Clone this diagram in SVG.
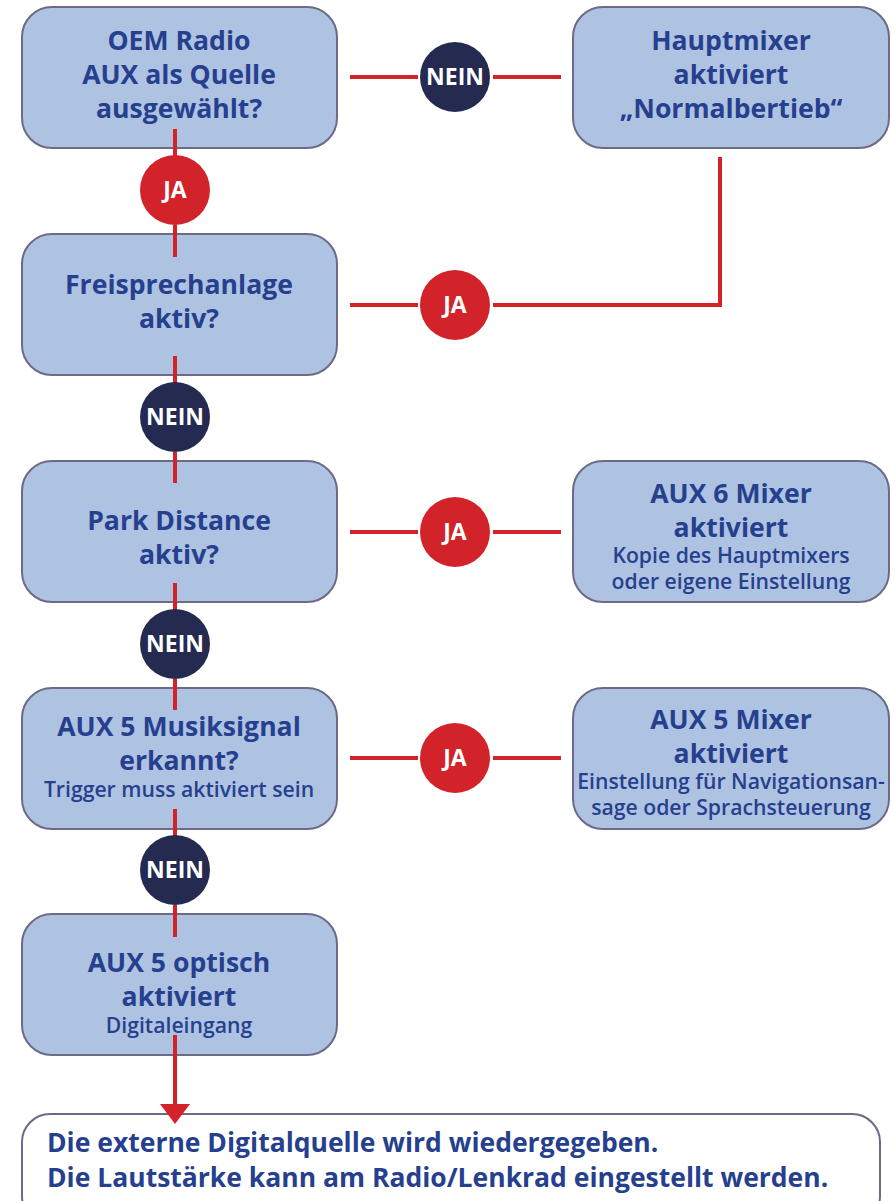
<svg xmlns="http://www.w3.org/2000/svg" width="895" height="1201" viewBox="0 0 895 1201">
<defs>
<style>
.box{fill:#aec3e1;stroke:#6d6a86;stroke-width:2}
.fin{fill:#ffffff;stroke:#6d6a86;stroke-width:2}
.t{font-family:"Open Sans","Noto Sans","Liberation Sans",sans-serif;font-weight:700;font-size:26.6px;fill:#263f8e;text-anchor:middle}
.s{font-family:"Open Sans","Noto Sans","Liberation Sans",sans-serif;font-weight:600;font-size:21.2px;fill:#263f8e;text-anchor:middle}
.b{font-family:"Open Sans","Noto Sans","Liberation Sans",sans-serif;font-weight:700;font-size:26.5px;fill:#263f8e}
.ln{stroke:#d2232a;stroke-width:4;fill:none}
.ja{fill:#d2232a}
.nein{fill:#242a50}
.ct{font-family:"Open Sans","Noto Sans","Liberation Sans",sans-serif;font-weight:700;font-size:23px;fill:#ffffff;text-anchor:middle}
</style>
</defs>

<g id="n1"><rect class="box" x="22" y="7" width="315" height="141" rx="30"/>
<text class="t" x="179" y="50">OEM Radio</text><text class="t" x="179" y="84">AUX als Quelle</text><text class="t" x="179" y="118">ausgewählt?</text></g>

<g id="n2"><rect class="box" x="573" y="7" width="316" height="141" rx="30"/>
<text class="t" x="731" y="50">Hauptmixer</text><text class="t" x="731" y="84">aktiviert</text><text class="t" x="731" y="118">„Normalbertieb“</text></g>

<g id="n3"><rect class="box" x="22" y="234" width="315" height="141" rx="30"/>
<text class="t" x="179" y="294">Freisprechanlage</text><text class="t" x="179" y="328">aktiv?</text></g>

<g id="n4"><rect class="box" x="22" y="461" width="315" height="141" rx="30"/>
<text class="t" x="179" y="530">Park Distance</text><text class="t" x="179" y="564">aktiv?</text></g>

<g id="n5"><rect class="box" x="573" y="461" width="316" height="141" rx="30"/>
<text class="t" x="731" y="503">AUX 6 Mixer</text><text class="t" x="731" y="537">aktiviert</text>
<text class="s" x="731" y="563">Kopie des Hauptmixers</text><text class="s" x="731" y="589">oder eigene Einstellung</text></g>

<g id="n6"><rect class="box" x="22" y="688" width="315" height="141" rx="30"/>
<text class="t" x="179" y="736">AUX 5 Musiksignal</text><text class="t" x="179" y="770">erkannt?</text>
<text class="s" x="179" y="797">Trigger muss aktiviert sein</text></g>

<g id="n7"><rect class="box" x="573" y="688" width="316" height="141" rx="30"/>
<text class="t" x="731" y="729">AUX 5 Mixer</text><text class="t" x="731" y="763">aktiviert</text>
<text class="s" x="731" y="789">Einstellung für Navigationsan-</text><text class="s" x="731" y="815">sage oder Sprachsteuerung</text></g>

<g id="n8"><rect class="box" x="22" y="914" width="315" height="141" rx="30"/>
<text class="t" x="179" y="972">AUX 5 optisch</text><text class="t" x="179" y="1006">aktiviert</text>
<text class="s" x="179" y="1033">Digitaleingang</text></g>

<g id="n9"><rect class="fin" x="22" y="1114" width="858" height="110" rx="28"/>
<text class="b" x="47" y="1152">Die externe Digitalquelle wird wiedergegeben.</text>
<text class="b" x="47" y="1187">Die Lautstärke kann am Radio/Lenkrad eingestellt werden.</text></g>

<g id="connectors">
<line class="ln" x1="350" y1="77" x2="418" y2="77"/><line class="ln" x1="493" y1="77" x2="561" y2="77"/>
<line class="ln" x1="175" y1="129" x2="175" y2="156"/><line class="ln" x1="175" y1="225" x2="175" y2="257"/>
<path class="ln" d="M720,157 V305 H493" stroke-width="5"/><line class="ln" x1="350" y1="305" x2="418" y2="305"/>
<line class="ln" x1="175" y1="356" x2="175" y2="383"/><line class="ln" x1="175" y1="452" x2="175" y2="483"/>
<line class="ln" x1="350" y1="532" x2="418" y2="532"/><line class="ln" x1="493" y1="532" x2="561" y2="532"/>
<line class="ln" x1="175" y1="583" x2="175" y2="610"/><line class="ln" x1="175" y1="679" x2="175" y2="710"/>
<line class="ln" x1="350" y1="758" x2="418" y2="758"/><line class="ln" x1="493" y1="758" x2="561" y2="758"/>
<line class="ln" x1="175" y1="809" x2="175" y2="836"/><line class="ln" x1="175" y1="905" x2="175" y2="937"/>
<line class="ln" x1="175" y1="1035" x2="175" y2="1108"/>
<path d="M160,1104 L190,1104 L175,1124 Z" fill="#d2232a"/>
</g>

<g id="lbl1"><circle class="nein" cx="455" cy="77" r="35"/><text class="ct" x="455" y="85">NEIN</text></g>
<g id="lbl2"><circle class="ja" cx="175" cy="190" r="35"/><text class="ct" x="175" y="198">JA</text></g>
<g id="lbl3"><circle class="ja" cx="455" cy="305" r="35"/><text class="ct" x="455" y="313">JA</text></g>
<g id="lbl4"><circle class="nein" cx="175" cy="417" r="35"/><text class="ct" x="175" y="425">NEIN</text></g>
<g id="lbl5"><circle class="ja" cx="455" cy="532" r="35"/><text class="ct" x="455" y="540">JA</text></g>
<g id="lbl6"><circle class="nein" cx="175" cy="644" r="35"/><text class="ct" x="175" y="652">NEIN</text></g>
<g id="lbl7"><circle class="ja" cx="455" cy="758" r="35"/><text class="ct" x="455" y="766">JA</text></g>
<g id="lbl8"><circle class="nein" cx="175" cy="870" r="35"/><text class="ct" x="175" y="878">NEIN</text></g>
</svg>
